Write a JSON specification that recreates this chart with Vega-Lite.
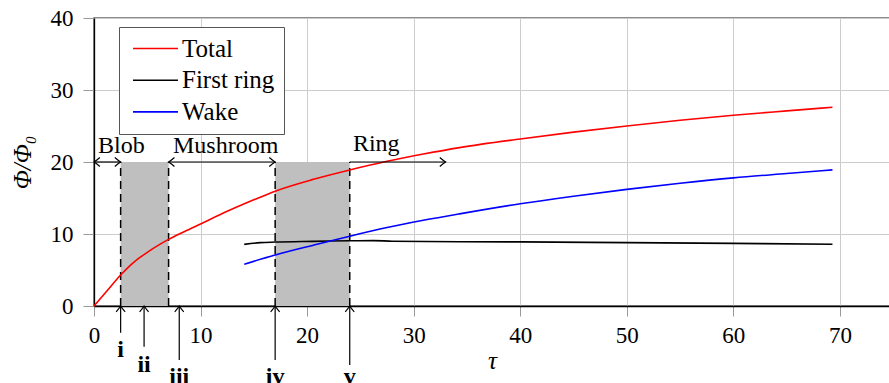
{
  "$schema": "https://vega.github.io/schema/vega-lite/v6.json",
  "width": 796,
  "height": 288,
  "autosize": {"type": "none"},
  "padding": {"left": 94, "top": 18, "right": 0, "bottom": 77},
  "background": "white",
  "config": {
    "font": "Liberation Serif",
    "view": {"stroke": "#666666", "strokeWidth": 1.5},
    "axis": {
      "labelFont": "Liberation Serif",
      "labelFontSize": 23,
      "labelColor": "black",
      "titleFont": "Liberation Serif",
      "titleFontSize": 25,
      "titleFontWeight": "normal",
      "titleFontStyle": "italic",
      "titleColor": "black",
      "domainColor": "black",
      "domainWidth": 1.3,
      "tickColor": "#9a9a9a",
      "tickWidth": 1,
      "gridColor": "#cccccc",
      "gridWidth": 1,
      "labelFlush": false,
      "labelOverlap": false
    }
  },
  "datasets": {
    "curves": [
      {"series": "Total", "tau": 0, "phi": 0},
      {"series": "Total", "tau": 1.25, "phi": 2.15},
      {"series": "Total", "tau": 2.5, "phi": 4.3},
      {"series": "Total", "tau": 3.75, "phi": 6.1},
      {"series": "Total", "tau": 5, "phi": 7.45},
      {"series": "Total", "tau": 6.25, "phi": 8.62},
      {"series": "Total", "tau": 7, "phi": 9.25},
      {"series": "Total", "tau": 8.5, "phi": 10.35},
      {"series": "Total", "tau": 10, "phi": 11.4},
      {"series": "Total", "tau": 12.5, "phi": 13.15},
      {"series": "Total", "tau": 15, "phi": 14.75},
      {"series": "Total", "tau": 17, "phi": 15.95},
      {"series": "Total", "tau": 20.6, "phi": 17.6},
      {"series": "Total", "tau": 24, "phi": 18.9},
      {"series": "Total", "tau": 27.5, "phi": 20.1},
      {"series": "Total", "tau": 30.9, "phi": 21.1},
      {"series": "Total", "tau": 34.3, "phi": 22.0},
      {"series": "Total", "tau": 40, "phi": 23.2},
      {"series": "Total", "tau": 45, "phi": 24.15},
      {"series": "Total", "tau": 50, "phi": 25.0},
      {"series": "Total", "tau": 55, "phi": 25.8},
      {"series": "Total", "tau": 60, "phi": 26.5},
      {"series": "Total", "tau": 65, "phi": 27.1},
      {"series": "Total", "tau": 69.3, "phi": 27.6},
      {"series": "First ring", "tau": 14.1, "phi": 8.56},
      {"series": "First ring", "tau": 15.6, "phi": 8.8},
      {"series": "First ring", "tau": 17, "phi": 8.88},
      {"series": "First ring", "tau": 20.6, "phi": 8.98},
      {"series": "First ring", "tau": 24, "phi": 9.06},
      {"series": "First ring", "tau": 26.2, "phi": 9.08},
      {"series": "First ring", "tau": 28, "phi": 9.0},
      {"series": "First ring", "tau": 34.3, "phi": 8.93},
      {"series": "First ring", "tau": 40, "phi": 8.9},
      {"series": "First ring", "tau": 50, "phi": 8.8},
      {"series": "First ring", "tau": 60, "phi": 8.7},
      {"series": "First ring", "tau": 69.3, "phi": 8.57},
      {"series": "Wake", "tau": 14.1, "phi": 5.8},
      {"series": "Wake", "tau": 17, "phi": 7.08},
      {"series": "Wake", "tau": 20.6, "phi": 8.45},
      {"series": "Wake", "tau": 24, "phi": 9.7},
      {"series": "Wake", "tau": 27.5, "phi": 10.9},
      {"series": "Wake", "tau": 30.9, "phi": 11.9},
      {"series": "Wake", "tau": 34.3, "phi": 12.8},
      {"series": "Wake", "tau": 40, "phi": 14.2},
      {"series": "Wake", "tau": 45, "phi": 15.25},
      {"series": "Wake", "tau": 50, "phi": 16.2},
      {"series": "Wake", "tau": 55, "phi": 17.05},
      {"series": "Wake", "tau": 60, "phi": 17.8},
      {"series": "Wake", "tau": 65, "phi": 18.4},
      {"series": "Wake", "tau": 69.3, "phi": 18.9}
    ],
    "bands": [
      {"start": 2.5, "end": 7, "low": 0, "high": 20},
      {"start": 17, "end": 24, "low": 0, "high": 20}
    ],
    "bounds": [
      {"tau": 2.5, "low": 0, "high": 20},
      {"tau": 7, "low": 0, "high": 20},
      {"tau": 17, "low": 0, "high": 20},
      {"tau": 24, "low": 0, "high": 20}
    ],
    "phases": [
      {"name": "Blob", "from": 0, "to": 2.5, "level": 20, "labelTau": 0.38, "labelPhi": 21.25},
      {"name": "Mushroom", "from": 7, "to": 17, "level": 20, "labelTau": 7.41, "labelPhi": 21.25},
      {"name": "Ring", "from": 24, "to": 33, "level": 20, "labelTau": 24.3, "labelPhi": 21.57}
    ],
    "rightHeads": [
      {"tau": 2.5, "phi": 20},
      {"tau": 17, "phi": 20},
      {"tau": 33, "phi": 20}
    ],
    "leftHeads": [
      {"tau": 0, "phi": 20},
      {"tau": 7, "phi": 20}
    ],
    "instants": [
      {"label": "i", "tau": 2.5, "tail": -3.7, "labelPhi": -7.15},
      {"label": "ii", "tau": 4.7, "tail": -5.65, "labelPhi": -9.1},
      {"label": "iii", "tau": 8, "tail": -7.5, "labelPhi": -10.9},
      {"label": "iv", "tau": 17, "tail": -7.5, "labelPhi": -10.9},
      {"label": "v", "tau": 24, "tail": -8.2, "labelPhi": -10.8}
    ]
  },
  "layer": [
    {
      "data": {"name": "bands"},
      "mark": {"type": "rect", "color": "#bfbfbf", "opacity": 1},
      "encoding": {
        "x": {"field": "start", "type": "quantitative", "scale": {"domain": [0, 74.7], "nice": false, "zero": false},
          "axis": {"values": [0, 10, 20, 30, 40, 50, 60, 70], "title": "τ", "tickSize": 10, "labelPadding": 8, "titleY": 62, "titleBaseline": "alphabetic", "grid": true}},
        "x2": {"field": "end"},
        "y": {"field": "low", "type": "quantitative", "scale": {"domain": [0, 40], "nice": false, "zero": false},
          "axis": {"values": [0, 10, 20, 30, 40], "title": "Φ/Φ₀", "tickSize": 11, "labelPadding": 10, "titleX": -72, "titleY": 144, "titleAngle": 270, "titleAlign": "center", "titleBaseline": "middle", "grid": true}},
        "y2": {"field": "high"}
      }
    },
    {
      "data": {"name": "bounds"},
      "mark": {"type": "rule", "color": "black", "strokeWidth": 1.5, "strokeDash": [8, 5]},
      "encoding": {
        "x": {"field": "tau", "type": "quantitative"},
        "y": {"field": "low", "type": "quantitative"},
        "y2": {"field": "high"}
      }
    },
    {
      "data": {"name": "curves"},
      "mark": {"type": "line", "strokeWidth": 1.6, "interpolate": "monotone"},
      "encoding": {
        "x": {"field": "tau", "type": "quantitative"},
        "y": {"field": "phi", "type": "quantitative"},
        "color": {
          "field": "series", "type": "nominal",
          "scale": {"domain": ["Total", "First ring", "Wake"], "range": ["#ff0000", "#000000", "#0000ff"]},
          "legend": {
            "orient": "none", "legendX": 25, "legendY": 9, "title": null,
            "symbolType": "M-1,0H5", "symbolSize": 225, "symbolStrokeWidth": 1.6,
            "labelFont": "Liberation Serif", "labelFontSize": 25, "labelColor": "black",
            "labelOffset": 29, "rowPadding": 5.7, "padding": 9, "labelLimit": 400,
            "strokeColor": "#555555", "fillColor": "white"
          }
        }
      }
    },
    {
      "data": {"name": "phases"},
      "mark": {"type": "rule", "color": "black", "strokeWidth": 1.2},
      "encoding": {
        "x": {"field": "from", "type": "quantitative"},
        "x2": {"field": "to"},
        "y": {"field": "level", "type": "quantitative"}
      }
    },
    {
      "data": {"name": "rightHeads"},
      "mark": {"type": "point", "shape": "M-1.3,-1Q-0.5,-0.3,0,0Q-0.5,0.3,-1.3,1", "filled": false, "size": 81, "color": "black", "strokeWidth": 1.2, "opacity": 1},
      "encoding": {
        "x": {"field": "tau", "type": "quantitative"},
        "y": {"field": "phi", "type": "quantitative"}
      }
    },
    {
      "data": {"name": "leftHeads"},
      "mark": {"type": "point", "shape": "M1.3,-1Q0.5,-0.3,0,0Q0.5,0.3,1.3,1", "filled": false, "size": 81, "color": "black", "strokeWidth": 1.2, "opacity": 1},
      "encoding": {
        "x": {"field": "tau", "type": "quantitative"},
        "y": {"field": "phi", "type": "quantitative"}
      }
    },
    {
      "data": {"name": "instants"},
      "mark": {"type": "rule", "color": "black", "strokeWidth": 1.2},
      "encoding": {
        "x": {"field": "tau", "type": "quantitative"},
        "y": {"field": "tail", "type": "quantitative"},
        "y2": {"datum": 0}
      }
    },
    {
      "data": {"name": "instants"},
      "mark": {"type": "point", "shape": "M-1,1.3Q-0.3,0.5,0,0Q0.3,0.5,1,1.3", "filled": false, "size": 81, "color": "black", "strokeWidth": 1.2, "opacity": 1},
      "encoding": {
        "x": {"field": "tau", "type": "quantitative"},
        "y": {"datum": 0}
      }
    },
    {
      "data": {"name": "instants"},
      "mark": {"type": "text", "font": "Liberation Serif", "fontSize": 24, "fontWeight": "bold", "color": "black", "align": "center", "baseline": "alphabetic"},
      "encoding": {
        "x": {"field": "tau", "type": "quantitative"},
        "y": {"field": "labelPhi", "type": "quantitative"},
        "text": {"field": "label"}
      }
    },
    {
      "data": {"name": "phases"},
      "mark": {"type": "text", "font": "Liberation Serif", "fontSize": 24, "color": "black", "align": "left", "baseline": "alphabetic"},
      "encoding": {
        "x": {"field": "labelTau", "type": "quantitative"},
        "y": {"field": "labelPhi", "type": "quantitative"},
        "text": {"field": "name"}
      }
    }
  ]
}
